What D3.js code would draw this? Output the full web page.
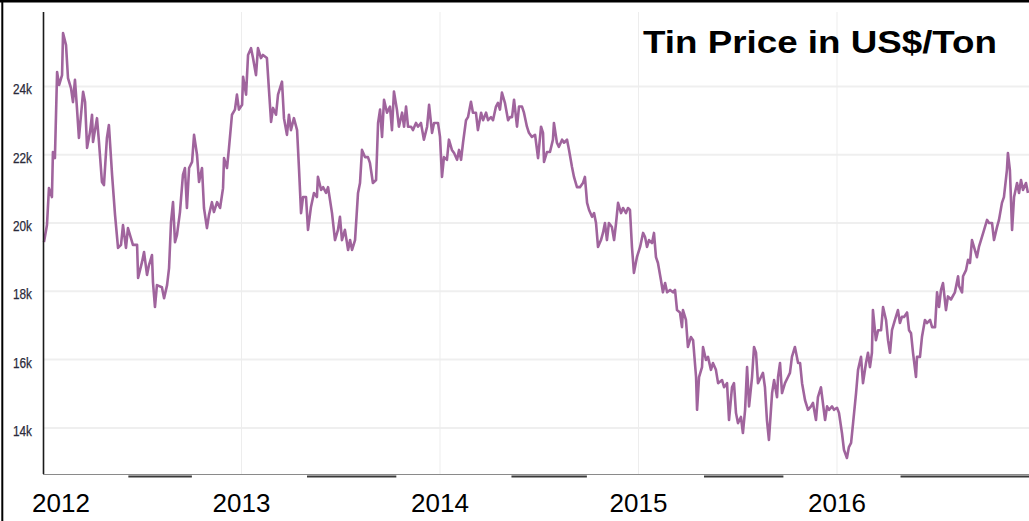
<!DOCTYPE html>
<html>
<head>
<meta charset="utf-8">
<script src="https://cdn.jsdelivr.net/npm/d3@7"></script>
<style>
  body { margin: 0; background: #fff; }
</style>
</head>
<body>
<script>
"use strict";

// tin price (decimal year, US$/ton)
const yearPos = [
  2012.005, 2012.020, 2012.030, 2012.045, 2012.050, 2012.060, 2012.071, 2012.081, 2012.096, 2012.101,
  2012.116, 2012.126, 2012.141, 2012.151, 2012.161, 2012.171, 2012.181, 2012.202, 2012.212, 2012.222,
  2012.237, 2012.247, 2012.252, 2012.272, 2012.282, 2012.297, 2012.307, 2012.322, 2012.332, 2012.348,
  2012.363, 2012.378, 2012.393, 2012.403, 2012.418, 2012.428, 2012.443, 2012.453, 2012.474, 2012.479,
  2012.499, 2012.509, 2012.524, 2012.534, 2012.549, 2012.554, 2012.564, 2012.574, 2012.599, 2012.610,
  2012.625, 2012.635, 2012.645, 2012.655, 2012.665, 2012.675, 2012.690, 2012.705, 2012.715, 2012.725,
  2012.736, 2012.751, 2012.761, 2012.776, 2012.786, 2012.801, 2012.811, 2012.826, 2012.836, 2012.851,
  2012.861, 2012.877, 2012.892, 2012.907, 2012.912, 2012.927, 2012.937, 2012.952, 2012.967, 2012.977,
  2012.987, 2013.003, 2013.008, 2013.023, 2013.033, 2013.048, 2013.058, 2013.073, 2013.083, 2013.098,
  2013.108, 2013.128, 2013.139, 2013.149, 2013.159, 2013.174, 2013.184, 2013.204, 2013.214, 2013.229,
  2013.239, 2013.249, 2013.264, 2013.280, 2013.290, 2013.300, 2013.310, 2013.325, 2013.335, 2013.350,
  2013.365, 2013.380, 2013.385, 2013.401, 2013.411, 2013.426, 2013.436, 2013.456, 2013.471, 2013.486,
  2013.496, 2013.506, 2013.521, 2013.537, 2013.547, 2013.557, 2013.572, 2013.587, 2013.597, 2013.607,
  2013.622, 2013.637, 2013.647, 2013.662, 2013.678, 2013.688, 2013.698, 2013.708, 2013.718, 2013.733,
  2013.748, 2013.758, 2013.768, 2013.783, 2013.793, 2013.809, 2013.819, 2013.829, 2013.839, 2013.854,
  2013.864, 2013.879, 2013.889, 2013.904, 2013.919, 2013.935, 2013.945, 2013.960, 2013.970, 2013.990,
  2014.000, 2014.010, 2014.020, 2014.035, 2014.045, 2014.060, 2014.071, 2014.086, 2014.096, 2014.106,
  2014.116, 2014.131, 2014.141, 2014.156, 2014.166, 2014.181, 2014.191, 2014.207, 2014.217, 2014.232,
  2014.242, 2014.257, 2014.267, 2014.282, 2014.292, 2014.302, 2014.312, 2014.327, 2014.343, 2014.353,
  2014.363, 2014.373, 2014.388, 2014.398, 2014.413, 2014.423, 2014.438, 2014.448, 2014.463, 2014.479,
  2014.494, 2014.509, 2014.519, 2014.524, 2014.539, 2014.554, 2014.569, 2014.574, 2014.589, 2014.599,
  2014.615, 2014.625, 2014.640, 2014.650, 2014.665, 2014.675, 2014.690, 2014.705, 2014.720, 2014.730,
  2014.741, 2014.751, 2014.766, 2014.776, 2014.786, 2014.796, 2014.811, 2014.821, 2014.831, 2014.841,
  2014.851, 2014.866, 2014.877, 2014.887, 2014.897, 2014.912, 2014.922, 2014.937, 2014.947, 2014.957,
  2014.967, 2014.977, 2014.992, 2015.008, 2015.023, 2015.033, 2015.043, 2015.053, 2015.068, 2015.078,
  2015.088, 2015.098, 2015.113, 2015.123, 2015.134, 2015.144, 2015.159, 2015.174, 2015.184, 2015.194,
  2015.209, 2015.219, 2015.224, 2015.239, 2015.249, 2015.264, 2015.275, 2015.290, 2015.295, 2015.305,
  2015.320, 2015.325, 2015.340, 2015.350, 2015.365, 2015.375, 2015.390, 2015.401, 2015.421, 2015.431,
  2015.446, 2015.456, 2015.471, 2015.481, 2015.491, 2015.501, 2015.516, 2015.526, 2015.537, 2015.547,
  2015.557, 2015.572, 2015.582, 2015.592, 2015.602, 2015.617, 2015.627, 2015.637, 2015.647, 2015.657,
  2015.673, 2015.683, 2015.698, 2015.703, 2015.713, 2015.723, 2015.738, 2015.753, 2015.763, 2015.773,
  2015.788, 2015.804, 2015.814, 2015.824, 2015.839, 2015.854, 2015.869, 2015.879, 2015.894, 2015.904,
  2015.919, 2015.929, 2015.940, 2015.950, 2015.960, 2015.975, 2015.985, 2016.000, 2016.010, 2016.025,
  2016.035, 2016.050, 2016.060, 2016.071, 2016.081, 2016.096, 2016.106, 2016.121, 2016.131, 2016.146,
  2016.156, 2016.166, 2016.176, 2016.181, 2016.196, 2016.207, 2016.222, 2016.232, 2016.247, 2016.257,
  2016.267, 2016.277, 2016.292, 2016.307, 2016.317, 2016.327, 2016.338, 2016.353, 2016.363, 2016.373,
  2016.383, 2016.398, 2016.403, 2016.418, 2016.428, 2016.443, 2016.453, 2016.469, 2016.479, 2016.494,
  2016.504, 2016.514, 2016.524, 2016.534, 2016.549, 2016.559, 2016.574, 2016.594, 2016.610, 2016.615,
  2016.630, 2016.635, 2016.650, 2016.660, 2016.670, 2016.680, 2016.690, 2016.705, 2016.715, 2016.730,
  2016.741, 2016.756, 2016.766, 2016.781, 2016.791, 2016.806, 2016.816, 2016.831, 2016.841, 2016.856,
  2016.861, 2016.871, 2016.882, 2016.892, 2016.907, 2016.917, 2016.927, 2016.937, 2016.952, 2016.962
];

const price = [
  19440, 19940, 21020, 20760, 22080, 21900, 24420, 24040, 24330, 25560,
  25210, 24240, 23950, 23540, 24190, 23370, 22490, 23840, 23540, 22200,
  22670, 23170, 22370, 23070, 22370, 21200, 21110, 22490, 22870, 21410,
  20230, 19270, 19360, 19940, 19270, 19850, 19560, 19360, 19360, 18390,
  18860, 19150, 18480, 18770, 19060, 18270, 17540, 18180, 18120, 17800,
  18180, 18680, 20030, 20610, 19440, 19650, 20320, 21410, 21610, 20440,
  21610, 21790, 22580, 21990, 21200, 21610, 20440, 19850, 20230, 20610,
  20320, 20610, 20440, 21020, 21900, 21610, 22200, 23170, 23320, 23760,
  23320, 23460, 24280, 23760, 24920, 25120, 24830, 24330, 25120, 24830,
  24920, 24830, 23840, 22960, 23370, 23170, 23760, 24140, 23070, 22580,
  23170, 22720, 23070, 22720, 21550, 20290, 20760, 20760, 19800, 20470,
  20880, 20760, 21350, 20970, 21050, 20880, 21050, 20290, 19500, 19800,
  20180, 19500, 19800, 19210, 19500, 19210, 19500, 20880, 21170, 22140,
  21930, 21930, 21760, 21170, 21260, 22930, 23320, 22520, 23610, 23230,
  23410, 22720, 23850, 23320, 22820, 23230, 22820, 23410, 22820, 22820,
  22720, 22930, 22820, 22930, 22440, 22820, 23460, 22640, 22930, 22930,
  22520, 21350, 21930, 21850, 22440, 22140, 22050, 21850, 22140, 21850,
  22350, 23010, 23100, 23550, 23230, 23230, 22720, 23230, 23010, 23230,
  23010, 23100, 23010, 23410, 23520, 23320, 23820, 23520, 23010, 23100,
  23100, 23610, 22820, 23410, 23410, 23230, 22820, 22640, 22520, 22580,
  21900, 22820, 22640, 21790, 22080, 22080, 22440, 22930, 22350, 22230,
  22440, 22350, 22440, 22140, 21640, 21350, 21050, 21050, 21170, 21350,
  20590, 20380, 20180, 20290, 20000, 19300, 19500, 19710, 20000, 19500,
  20000, 19880, 19500, 20000, 20590, 20290, 20440, 20290, 20440, 20380,
  19300, 18540, 19000, 19300, 19710, 19590, 19300, 19500, 19410, 19710,
  19000, 18830, 18330, 17970, 18240, 17970, 18040, 17970, 18040, 17450,
  17380, 16950, 17450, 17160, 16370, 16660, 16570, 15490, 14530, 15490,
  15780, 16370, 15990, 16080, 15700, 15900, 15700, 15310, 15400, 15190,
  15310, 14230, 15190, 15310, 14440, 14140, 14320, 13850, 14530, 15780,
  14630, 15490, 16370, 16200, 15310, 15490, 15610, 15190, 14230, 13650,
  15020, 15400, 14900, 15490, 15900, 15020, 15310, 15490, 15610, 16080,
  16370, 15900, 15900, 15310, 14810, 14530, 14630, 14730, 14230, 14900,
  15190, 14730, 14230, 14630, 14530, 14630, 14530, 14590, 14440, 13850,
  13360, 13120, 13440, 13560, 14140, 15020, 15700, 16080, 15310, 15900,
  16200, 15780, 16200, 17450, 16570, 16860, 16860, 17540, 17160, 16570,
  16200, 16860, 17160, 17450, 17070, 17250, 17250, 17380, 16860, 16770,
  16200, 15490, 16080, 16080, 16660, 17160, 17070, 17160, 16950, 16950,
  17970, 17540, 18040, 18240, 17450, 17850, 17760, 17970, 18440, 18150,
  17970, 18440, 18620, 18920, 18830, 19500, 19300, 19000, 19300, 19590,
  19800, 20090, 20000, 20000, 19500, 19880, 20090, 20590, 20760, 21550,
  22050, 21550, 19800, 20760, 21170, 20880, 21260, 20970, 21170, 20880
];

const yearTicks = [2012, 2013, 2014, 2015, 2016];
const priceTicks = [14000, 16000, 18000, 20000, 22000, 24000];
const darkBands = [[2012.43, 2012.75], [2013.33, 2013.78], [2014.36, 2014.74], [2015.33, 2015.73], [2016.32, 2017]];
const title = "Tin Price in US$/Ton";

let svg = d3
  .select("body")
  .append("svg")
  .attr("width", 1029)
  .attr("height", 521)
  .style("display", "block");

const x = d3.scaleLinear().domain([2012, 2017]).range([43, 1035.5]);
const y = d3.scaleLinear().domain([14000, 24000]).range([427.9, 86.4]);

const plotTop = 12;
const plotBottom = 474;

// horizontal grid
svg
  .append("g")
  .selectAll("line")
  .data(priceTicks)
  .enter()
  .append("line")
  .attr("x1", 43)
  .attr("x2", 1029)
  .attr("y1", d => y(d))
  .attr("y2", d => y(d))
  .attr("stroke", "#efefef")
  .attr("stroke-width", 2);

// vertical grid at year starts
svg
  .append("g")
  .selectAll("line")
  .data(yearTicks.slice(1))
  .enter()
  .append("line")
  .attr("x1", d => x(d))
  .attr("x2", d => x(d))
  .attr("y1", plotTop)
  .attr("y2", plotBottom)
  .attr("stroke", "#ededed")
  .attr("stroke-width", 1);

// y labels
svg
  .append("g")
  .selectAll("text")
  .data(priceTicks)
  .enter()
  .append("text")
  .attr("x", 32)
  .attr("y", d => y(d) + 8)
  .attr("text-anchor", "end")
  .attr("font-family", "Liberation Sans, Arial, sans-serif")
  .attr("font-size", 14)
  .attr("textLength", 19)
  .attr("lengthAdjust", "spacingAndGlyphs")
  .attr("fill", "#2a2a3a")
  .attr("stroke", "#2a2a3a")
  .attr("stroke-width", 0.25)
  .text(d => d / 1000 + "k");

// price line
const line = d3
  .line()
  .x((d, i) => x(yearPos[i]))
  .y(d => y(d));

svg
  .append("path")
  .datum(price)
  .attr("d", line)
  .attr("fill", "none")
  .attr("stroke", "#a0649d")
  .attr("stroke-width", 2.6)
  .attr("stroke-linejoin", "round");

// axes
svg
  .append("line")
  .attr("x1", 43)
  .attr("x2", 1029)
  .attr("y1", plotBottom + 0.5)
  .attr("y2", plotBottom + 0.5)
  .attr("stroke", "#8a8a8a")
  .attr("stroke-width", 1);

svg
  .append("g")
  .selectAll("line")
  .data(darkBands)
  .enter()
  .append("line")
  .attr("x1", d => x(d[0]))
  .attr("x2", d => Math.min(x(d[1]), 1029))
  .attr("y1", plotBottom + 2.5)
  .attr("y2", plotBottom + 2.5)
  .attr("stroke", "#3a3a3a")
  .attr("stroke-width", 2);

svg
  .append("line")
  .attr("x1", 43.5)
  .attr("x2", 43.5)
  .attr("y1", plotTop)
  .attr("y2", plotBottom)
  .attr("stroke", "#1a1a1a")
  .attr("stroke-width", 1.6);

// outer frame bits
svg
  .append("line")
  .attr("x1", 0)
  .attr("x2", 1029)
  .attr("y1", 1.2)
  .attr("y2", 1.2)
  .attr("stroke", "#000")
  .attr("stroke-width", 2.6);

svg
  .append("line")
  .attr("x1", 2.3)
  .attr("x2", 2.3)
  .attr("y1", 0)
  .attr("y2", 521)
  .attr("stroke", "#000")
  .attr("stroke-width", 2);

// year labels
svg
  .append("g")
  .selectAll("text")
  .data(yearTicks)
  .enter()
  .append("text")
  .attr("x", (d, i) => (i === 0 ? x(d) - 11 : x(d)))
  .attr("y", 512)
  .attr("text-anchor", (d, i) => (i === 0 ? "start" : "middle"))
  .attr("font-family", "Liberation Sans, Arial, sans-serif")
  .attr("font-size", 26)
  .attr("fill", "#000")
  .text(d => d);

// title
svg
  .append("text")
  .attr("x", 643)
  .attr("y", 53)
  .attr("font-family", "Liberation Sans, Arial, sans-serif")
  .attr("font-weight", "bold")
  .attr("font-size", 32)
  .attr("textLength", 354)
  .attr("lengthAdjust", "spacingAndGlyphs")
  .attr("fill", "#000")
  .text(title);
</script>
</body>
</html>
